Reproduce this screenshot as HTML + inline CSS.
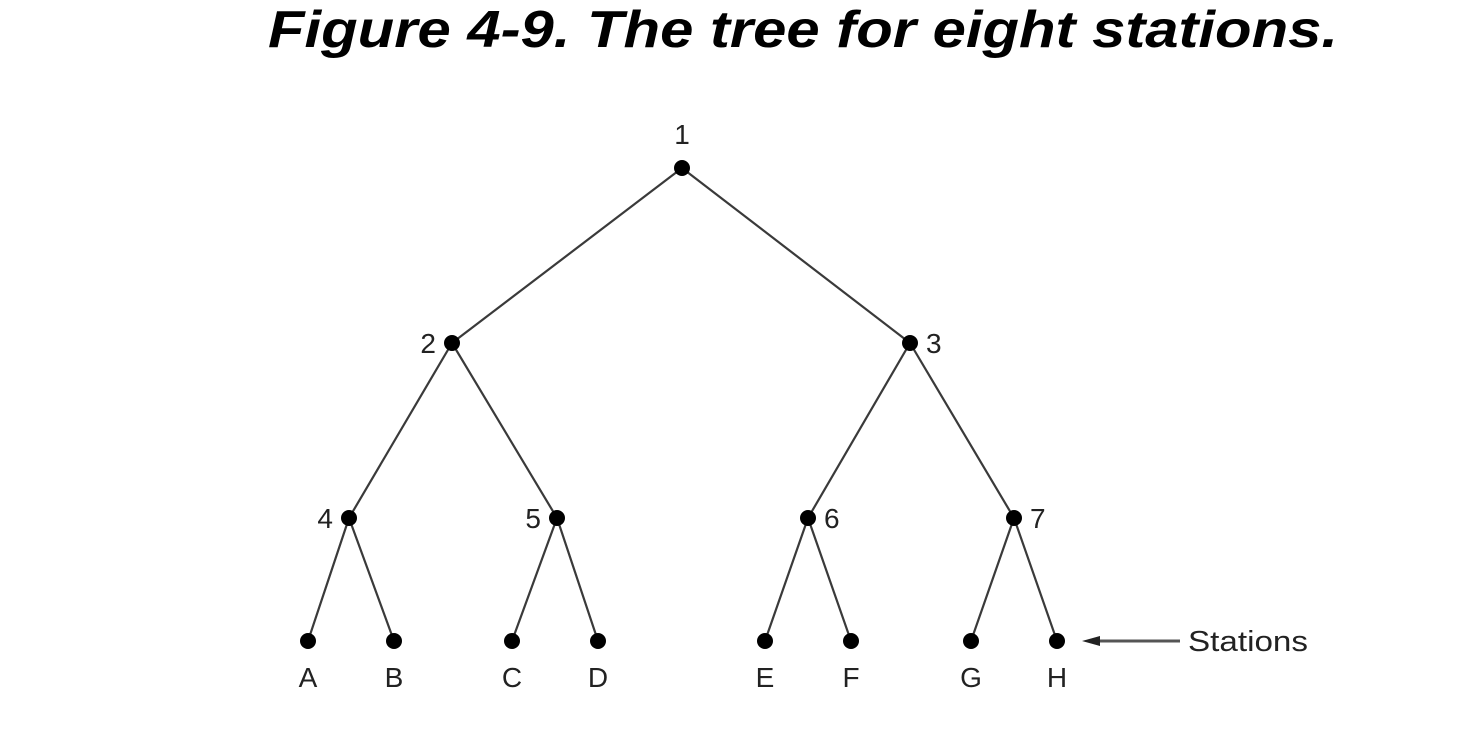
<!DOCTYPE html>
<html><head><meta charset="utf-8"><style>
html,body{margin:0;padding:0;background:#fff;width:1466px;height:739px;overflow:hidden}
svg{display:block}
text{font-family:"Liberation Sans",sans-serif}
</style></head><body>
<svg id="chart" width="1466" height="739" viewBox="0 0 1466 739">
<text x="268" y="47" font-size="52" font-weight="bold" font-style="italic" textLength="1070" lengthAdjust="spacingAndGlyphs">Figure 4-9. The tree for eight stations.</text>
<g id="edges" stroke="#3a3a3a" stroke-width="2.2"></g>
<g id="nodes"></g>
<g>
<line x1="1098" y1="641" x2="1180" y2="641" stroke="#555" stroke-width="3"/>
<polygon points="1082,641 1100,636 1100,646" fill="#222"/>
<text x="1188" y="651" font-size="29" textLength="120" lengthAdjust="spacingAndGlyphs" fill="#222">Stations</text>
</g>
</svg>
<script>
const nodeIds = ['1','2','3','4','5','6','7','A','B','C','D','E','F','G','H'];
const nodeX = [682,452,910,349,557,808,1014,308,394,512,598,765,851,971,1057];
const nodeLevel = [0,1,1,2,2,2,2,3,3,3,3,3,3,3,3];
const parentIdx = [-1,0,0,1,1,2,2,3,3,4,4,5,5,6,6];
const labelPos = ['top','left','right','left','left','right','right','below','below','below','below','below','below','below','below'];
const levelY = [168,343,518,641];
const NS='http://www.w3.org/2000/svg';
const eg=document.getElementById('edges'), ng=document.getElementById('nodes');
function y(l){return levelY[l];}
for(let i=0;i<nodeIds.length;i++){
  if(parentIdx[i]>=0){
    const p=parentIdx[i];
    const ln=document.createElementNS(NS,'line');
    ln.setAttribute('x1',nodeX[p]);ln.setAttribute('y1',y(nodeLevel[p]));
    ln.setAttribute('x2',nodeX[i]);ln.setAttribute('y2',y(nodeLevel[i]));
    
    
    eg.appendChild(ln);
  }
  const c=document.createElementNS(NS,'circle');
  c.setAttribute('cx',nodeX[i]);c.setAttribute('cy',y(nodeLevel[i]));c.setAttribute('r',8);c.setAttribute('fill','#000');
  
  
  ng.appendChild(c);
  const t=document.createElementNS(NS,'text');
  const cx=nodeX[i], cy=y(nodeLevel[i]);
  t.setAttribute('font-size','28');t.setAttribute('fill','#222');
  let tx=cx,ty=cy+10,anchor='middle';
  if(labelPos[i]==='top'){ty=cy-24;}
  else if(labelPos[i]==='left'){tx=cx-16;anchor='end';}
  else if(labelPos[i]==='right'){tx=cx+16;anchor='start';}
  else {ty=cy+46;}
  t.setAttribute('x',tx);t.setAttribute('y',ty);t.setAttribute('text-anchor',anchor);
  t.textContent=nodeIds[i];
  
  
  ng.appendChild(t);
}
</script>
</body></html>
